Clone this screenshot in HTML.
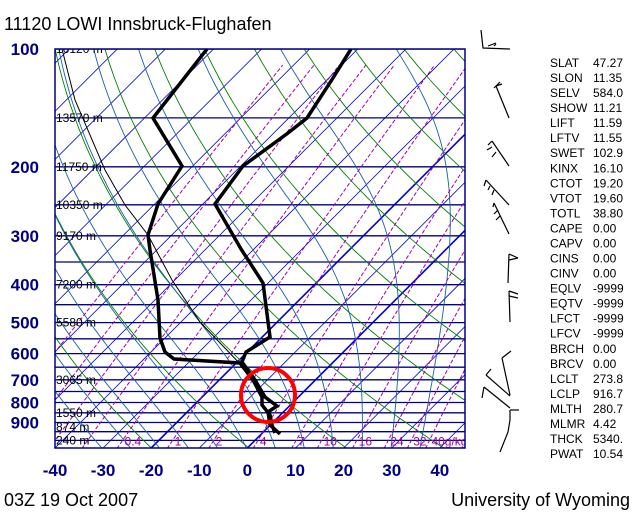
<!DOCTYPE html>
<html><head><meta charset="utf-8"><style>
body{margin:0;background:#fff;width:640px;height:512px;overflow:hidden;font-family:"Liberation Sans",sans-serif}
</style></head><body>
<svg id="s" width="640" height="512" xmlns="http://www.w3.org/2000/svg" font-family="Liberation Sans, sans-serif">
<defs><clipPath id="c"><rect x="55" y="49" width="410" height="399"/></clipPath></defs>
<rect width="640" height="512" fill="#fff"/>
<g id="g" clip-path="url(#c)"></g>
<rect x="55" y="49" width="410" height="399" fill="none" stroke="#000080" stroke-width="1.5"/>
<text x="4" y="30" font-size="18">11120 LOWI Innsbruck-Flughafen</text>
<text x="4" y="506" font-size="18">03Z 19 Oct 2007</text>
<text x="630" y="506" font-size="18" text-anchor="end">University of Wyoming</text>
<g id="t"></g>
</svg>
<script>
var g=document.getElementById('g'),t=document.getElementById('t'),NS='http://www.w3.org/2000/svg';
function Y(p){return 49+170*Math.log(p/100);}
function X(T,y){return 55+4.81*(T+40)+(448-y);}
function el(par,n,a,txt){var e=document.createElementNS(NS,n);for(var k in a)e.setAttribute(k,a[k]);if(txt!=null)e.textContent=txt;par.appendChild(e);return e;}
function line(pts,st,w,d){var s=pts.map(function(q){return q[0].toFixed(1)+','+q[1].toFixed(1)}).join(' ');var a={points:s,fill:'none',stroke:st,'stroke-width':w};if(d)a['stroke-dasharray']=d;el(g,'polyline',a);}
// isotherms
for(var T=-140;T<=50;T+=10){line([[X(T,448),448],[X(T,40),40]],'#0000e0',(T==0||T==-20)?1.6:0.8);}
// isobars
for(var p=100;p<=1050;p+=50){line([[55,Y(p)],[465,Y(p)]],'#000080',1.3);}
// dry adiabats
for(var th=230;th<=500;th+=20){var pts=[];for(var p=1050;p>=95;p-=10){var Tk=th*Math.pow(p/1000,0.2857)-273.15;var y=Y(p);pts.push([X(Tk,y),y]);}line(pts,'#008000',0.9);}
// moist adiabats
function es(T){return 6.112*Math.exp(17.67*T/(T+243.5));}
for(var T0=-30;T0<=40;T0+=6){var T=T0+273.15,p=1050,pts=[];
while(p>=95){var tc=T-273.15;var y=Y(p);pts.push([X(tc,y),y]);var e=es(tc),rs=0.622*e/(p-e);var dTdp=(1/p)*(287*T+2.5e6*rs)/(1004+2.5e6*2.5e6*rs*0.622/(287*T*T));T-=dTdp*5;p-=5;}
line(pts,'#1a5ea8',0.9);}
// mixing ratio
var ws=[0.02,0.05,0.1,0.2,0.4,1,2,4,7,10,16,24,32,40];
ws.forEach(function(w){var pts=[];for(var p=1050;p>=100;p-=20){var e=w*p/(622+w),l=Math.log(e/6.112),Tc=243.5*l/(17.67-l);var y=Y(p);pts.push([X(Tc,y),y]);}line(pts,'#a000b0',1,'4,2');
if(w<0.4)return;
var e=w*1000/(622+w),l=Math.log(e/6.112),Tc=243.5*l/(17.67-l);var y=Y(1000);el(g,'text',{x:X(Tc,y)+2,y:y+5,'font-size':12,fill:'#a000a0'},w==40?'40g/kg':String(w));});
// parcel
line([[62,49],[75,100],[105,170],[125,205],[148,235],[172,280],[200,322],[222,345],[242,366],[256,385],[268,400]],'#000',1);
// temp
line([[351,49],[333,78],[307,118],[288,133],[243,166],[215,204],[241,249],[263,283],[270,337],[246,352],[242,362],[255,380],[265,397],[277,406],[268,412],[270,425],[280,434]],'#000',3.5);
// dew
line([[207,49],[153,118],[182,166],[158,204],[148,235],[150,250],[158,300],[160,338],[165,352],[174,359],[240,363],[253,380],[262,397],[262,405],[270,415],[272,425],[275,433]],'#000',3.5);
// heights
[[100,'16120 m'],[150,'13570 m'],[200,'11750 m'],[250,'10350 m'],[300,'9170 m'],[400,'7200 m'],[500,'5580 m'],[700,'3065 m'],[850,'1550 m'],[925,'874 m'],[1000,'240 m']].forEach(function(a){el(g,'text',{x:56,y:Y(a[0])+4,'font-size':12,fill:'#000'},a[1]);});
el(g,'circle',{cx:268,cy:395,r:27,fill:'none',stroke:'#f00','stroke-width':4});
// pressure labels
[100,200,300,400,500,600,700,800,900].forEach(function(p){el(t,'text',{x:39,y:Y(p)+6,'font-size':17,'font-weight':'bold',fill:'#000080','text-anchor':'end'},p);});
for(var T=-40;T<=40;T+=10){el(t,'text',{x:55+4.81*(T+40),y:476,'font-size':17,'font-weight':'bold',fill:'#000080','text-anchor':'middle'},T);}
// stats
var st=[['SLAT','47.27'],['SLON','11.35'],['SELV','584.0'],['SHOW','11.21'],['LIFT','11.59'],['LFTV','11.55'],['SWET','102.9'],['KINX','16.10'],['CTOT','19.20'],['VTOT','19.60'],['TOTL','38.80'],['CAPE','0.00'],['CAPV','0.00'],['CINS','0.00'],['CINV','0.00'],['EQLV','-9999'],['EQTV','-9999'],['LFCT','-9999'],['LFCV','-9999'],['BRCH','0.00'],['BRCV','0.00'],['LCLT','273.8'],['LCLP','916.7'],['MLTH','280.7'],['MLMR','4.42'],['THCK','5340.'],['PWAT','10.54']];
st.forEach(function(a,i){var y=67+i*15.04;el(t,'text',{x:550,y:y,'font-size':12},a[0]);el(t,'text',{x:593,y:y,'font-size':12},a[1]);});
// wind barbs
var bl=[[[481,30],[483,48],[510,49]],[[488,46],[496,43]],[[494,46],[496,44]],[[496,86],[509,118]],[[496,86],[502,84]],[[500,82],[494,88]],[[492,141],[509,166]],[[492,141],[488,145]],[[492,147],[487,150]],[[496,152],[492,157]],[[486,180],[509,205]],[[486,180],[484,186]],[[490,186],[488,190]],[[494,190],[492,195]],[[494,203],[509,234]],[[494,203],[493,207]],[[498,210],[494,214]],[[500,216],[496,220]],[[509,254],[508,283]],[[509,254],[518,258]],[[509,260],[518,258]],[[509,291],[510,322]],[[509,291],[518,294]],[[509,296],[518,298]],[[511,351],[502,358]],[[502,358],[510,395]],[[486,375],[510,396]],[[486,375],[491,369]],[[484,387],[510,408]],[[484,387],[482,398]],[[510,410],[519,410]],[[510,410],[510,420],[508,432],[500,452]]];
bl.forEach(function(b){var s=b.map(function(q){return q.join(',')}).join(' ');el(t,'polyline',{points:s,fill:'none',stroke:'#000','stroke-width':1.2});});
</script>
</body></html>
